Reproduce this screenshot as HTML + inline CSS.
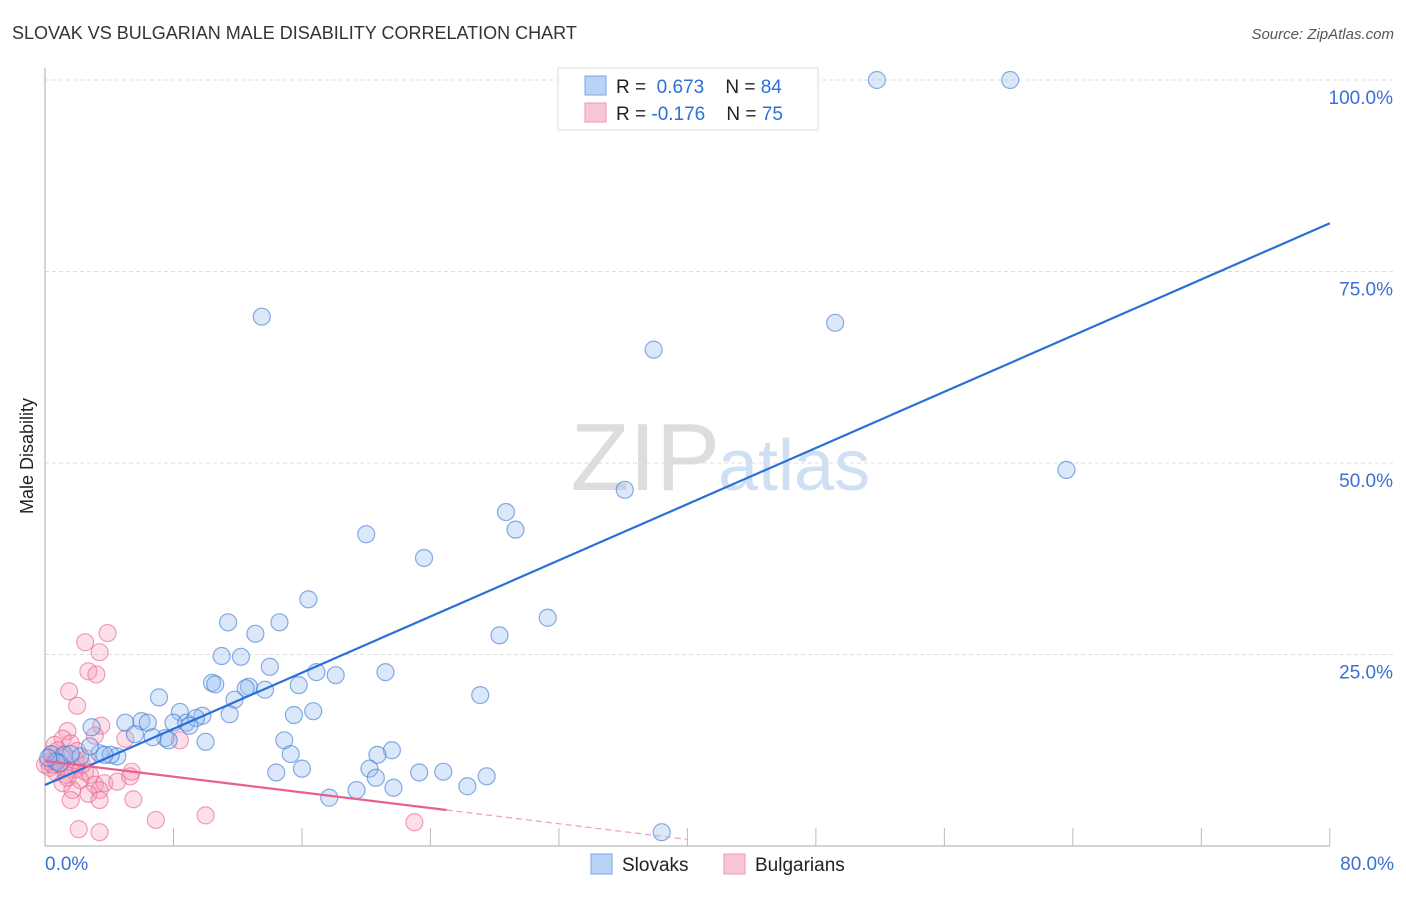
<!DOCTYPE html>
<html><head><meta charset="utf-8"><style>
body{margin:0;background:#fff;font-family:"Liberation Sans",sans-serif}
svg text{font-family:"Liberation Sans",sans-serif}
</style></head><body>
<svg id="c" width="1406" height="892">
<text x="12" y="39" font-size="18" fill="#333">SLOVAK VS BULGARIAN MALE DISABILITY CORRELATION CHART</text>
<text x="1394" y="39" font-size="15" fill="#555" text-anchor="end" font-style="italic">Source: ZipAtlas.com</text>
<text x="33" y="456" font-size="18" fill="#222" text-anchor="middle" transform="rotate(-90 33 456)">Male Disability</text>
<text x="720" y="490" font-size="96" fill="#ddd" text-anchor="end" font-family="Liberation Serif">ZIP</text>
<text x="718" y="490" font-size="72" fill="#cfe0f5">atlas</text>
<g id="grid"></g><g id="pts"></g><g id="lines"></g>
<g>
<rect x="558" y="68" width="260" height="62" fill="#fff" stroke="#ddd"/>
<rect x="585" y="76" width="21" height="19" fill="#b8d3f5" stroke="#7aa6e0"/>
<rect x="585" y="103" width="21" height="19" fill="#f8c6d4" stroke="#eb9ab2"/>
<text x="616" y="93" font-size="19" fill="#222">R = <tspan fill="#2f6fd6">&#160;0.673</tspan>&#160;&#160;&#160; N = <tspan fill="#2f6fd6">84</tspan></text>
<text x="616" y="120" font-size="19" fill="#222">R = <tspan fill="#2f6fd6">-0.176</tspan>&#160;&#160;&#160; N = <tspan fill="#2f6fd6">75</tspan></text>
</g>
<g>
<rect x="591" y="854" width="21" height="20" fill="#b8d3f5" stroke="#7aa6e0"/>
<text x="622" y="871" font-size="19" fill="#222">Slovaks</text>
<rect x="724" y="854" width="21" height="20" fill="#f8c6d4" stroke="#eb9ab2"/>
<text x="755" y="871" font-size="19" fill="#222">Bulgarians</text>
</g>
</svg>
<script>
const yTicks=[25,50,75,100];
const xTickLabels=["0.0%","80.0%"];
const blueX=[51.8,60.1,13.5,49.2,37.9,63.6,36.1,28.7,29.3,20.0,23.6,16.4,31.3,11.4,14.6,13.1,28.3,11.0,12.2,14.0,21.2,16.9,18.1,10.4,10.6,12.7,12.5,15.8,13.7,27.1,7.1,11.8,8.4,16.7,9.8,11.5,15.5,2.9,5.0,6.0,6.4,8.0,8.8,9.4,9.0,5.6,7.5,6.7,7.7,10.0,14.9,21.6,15.3,20.7,0.4,3.4,4.5,4.1,1.2,2.2,3.7,1.6,16.0,23.3,20.2,14.4,24.8,20.6,27.5,21.7,26.3,19.4,17.7,38.4,0.7,2.8,0.9,0.2];
const blueY=[100,100,69.1,68.3,64.8,49.1,46.5,43.6,41.3,40.7,37.6,32.2,29.8,29.2,29.2,27.7,27.5,24.8,24.7,23.4,22.7,22.7,22.3,21.3,21.1,20.8,20.6,21.0,20.4,19.7,19.4,19.1,17.5,17.6,17.0,17.2,17.1,15.5,16.1,16.3,16.1,16.1,16.1,16.7,15.7,14.6,14.1,14.2,13.8,13.6,13.8,12.5,12.0,11.9,12.0,12.1,11.7,11.9,11.9,11.7,11.9,12.0,10.1,9.6,10.1,9.6,9.7,8.9,9.1,7.6,7.8,7.3,6.3,1.8,11.0,13.0,10.8,11.5];
const pinkX=[3.9,2.5,3.4,2.7,3.2,1.5,2.0,1.4,3.5,3.1,5.0,8.4,1.1,1.6,0.4,0.6,0.9,1.2,0.2,1.9,2.5,2.2,2.8,3.1,3.7,4.5,5.4,5.3,3.4,2.7,1.7,1.6,3.4,5.5,6.9,10.0,23.0,2.1,3.4,0.6,0.8,1.0,0.3,0.7,1.3,0.0,0.5,1.9,2.3,1.4,1.1,2.0,2.6];
const pinkY=[27.8,26.6,25.3,22.8,22.4,20.2,18.3,15.0,15.7,14.4,14.0,13.8,14.0,13.4,11.9,11.2,10.6,10.2,11.0,10.0,9.7,8.6,9.3,8.0,8.2,8.4,9.7,9.1,7.3,6.8,7.3,6.0,6.0,6.1,3.4,4.0,3.1,2.2,1.8,13.2,12.5,11.6,10.2,9.6,9.3,10.6,10.6,11.2,10.6,8.9,8.2,12.4,11.4];
const blueFit=[7.96,81.3], pinkFit=[11.1,4.7,25,40];
const X=v=>45+v*16.06, Y=v=>846-v*7.66;
const NS="http://www.w3.org/2000/svg";
function mk(t,a,p){const e=document.createElementNS(NS,t);for(const k in a)e.setAttribute(k,a[k]);p.appendChild(e);return e;}
const g=document.getElementById('grid');
yTicks.forEach(t=>{const l=mk('line',{x1:45,x2:1394,y1:Y(t),y2:Y(t),stroke:'#ddd','stroke-dasharray':'4,3'},g);


const tx=mk('text',{x:1393,y:Y(t)+24,'font-size':19,fill:'#3b6fd4','text-anchor':'end'},g);tx.textContent=t.toFixed(1)+'%';

});
mk('line',{x1:45,x2:45,y1:68,y2:846,stroke:'#aaa'},g);
mk('line',{x1:45,x2:1330,y1:846,y2:846,stroke:'#aaa'},g);
for(let i=1;i<=10;i++){const t=mk('line',{x1:X(i*8),x2:X(i*8),y1:828,y2:846,stroke:'#bbb'},g);

}
[[0,'start',45],[80,'end',1394]].forEach((d,i)=>{const tx=mk('text',{x:d[2],y:870,'font-size':19,fill:'#3b6fd4','text-anchor':d[1]},g);tx.textContent=xTickLabels[i];

});
const p=document.getElementById('pts');
pinkX.forEach((x,i)=>{const c=mk('circle',{cx:X(x),cy:Y(pinkY[i]),r:8.5,fill:'rgba(244,150,180,0.3)',stroke:'rgba(232,100,140,0.6)','stroke-width':1.2},p);

});
blueX.forEach((x,i)=>{const c=mk('circle',{cx:X(x),cy:Y(blueY[i]),r:8.5,fill:'rgba(150,190,240,0.35)',stroke:'rgba(60,120,210,0.6)','stroke-width':1.2},p);

});
const L=document.getElementById('lines');
const bl=mk('line',{x1:X(0),y1:Y(blueFit[0]),x2:X(80),y2:Y(blueFit[1]),stroke:'#2a6fd6','stroke-width':2.2},L);


const slope=(pinkFit[1]-pinkFit[0])/pinkFit[2];
const pl=mk('line',{x1:X(0),y1:Y(pinkFit[0]),x2:X(pinkFit[2]),y2:Y(pinkFit[1]),stroke:'#e8608e','stroke-width':2.2},L);


const pd=mk('line',{x1:X(pinkFit[2]),y1:Y(pinkFit[1]),x2:X(pinkFit[3]),y2:Y(pinkFit[0]+slope*pinkFit[3]),stroke:'#e8a0b8','stroke-width':1.2,'stroke-dasharray':'6,4'},L);


</script>
</body></html>
